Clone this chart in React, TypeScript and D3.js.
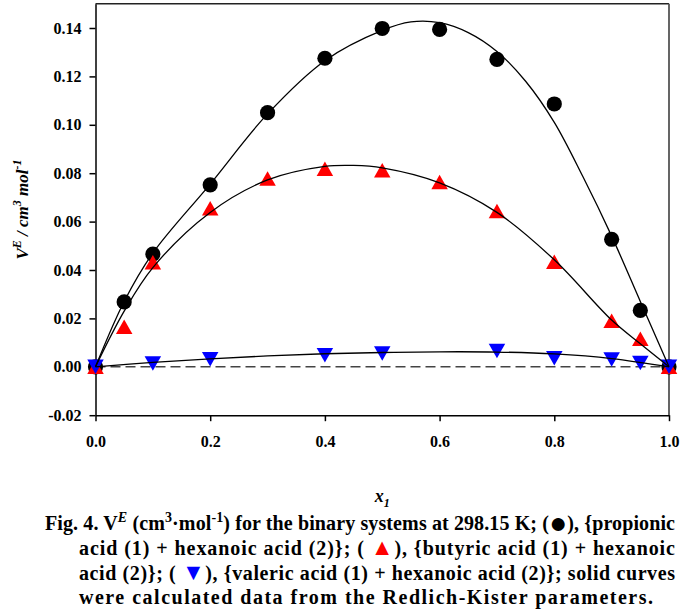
import React, { useRef, useEffect } from 'react';
import * as d3 from 'd3';

// measured points (x1, V^E in cm3/mol)
const xPropionic = [0, 0.05, 0.1, 0.2, 0.3, 0.4, 0.5, 0.6, 0.7, 0.8, 0.9, 0.95, 1.0];
const vePropionic = [0, 0.0268, 0.0466, 0.0752, 0.105, 0.1275, 0.1398, 0.1394, 0.127, 0.1086, 0.0527, 0.0233, 0];

const xButyric = [0, 0.05, 0.1, 0.2, 0.3, 0.4, 0.5, 0.6, 0.7, 0.8, 0.9, 0.95, 1.0];
const veButyric = [0, 0.0166, 0.0432, 0.0655, 0.0778, 0.0818, 0.0812, 0.0764, 0.0644, 0.0434, 0.019, 0.0116, 0];

const xValeric = [0, 0.1, 0.2, 0.4, 0.5, 0.7, 0.8, 0.9, 0.95, 1.0];
const veValeric = [0, 0.0014, 0.0031, 0.0048, 0.0055, 0.0065, 0.0035, 0.003, 0.0016, 0];

// Redlich-Kister curves
const xFitPropionic = [0, 0.05, 0.1, 0.2, 0.3, 0.4, 0.5, 0.55, 0.6, 0.65, 0.7, 0.75, 0.8, 0.85, 0.9, 0.95, 1];
const veFitPropionic = [0, 0.027, 0.047, 0.0755, 0.1045, 0.1265, 0.139, 0.1425, 0.1422, 0.1381, 0.1303, 0.118, 0.101, 0.0785, 0.054, 0.027, 0];

const xFitButyric = [0, 0.05, 0.1, 0.2, 0.3, 0.4, 0.45, 0.5, 0.6, 0.7, 0.8, 0.9, 0.95, 1];
const veFitButyric = [0, 0.023, 0.041, 0.0638, 0.0772, 0.0828, 0.0832, 0.0822, 0.076, 0.0638, 0.0442, 0.0193, 0.0095, 0];

const xFitValeric = [0, 0.1, 0.2, 0.3, 0.4, 0.5, 0.6, 0.7, 0.8, 0.9, 1.0];
const veFitValeric = [0, 0.0018, 0.0033, 0.0045, 0.0054, 0.0059, 0.0062, 0.0061, 0.0053, 0.0034, 0];

const xTicks = [0, 0.2, 0.4, 0.6, 0.8, 1.0];
const yTicks = [-0.02, 0, 0.02, 0.04, 0.06, 0.08, 0.1, 0.12, 0.14];

const W = 699;
const H = 613;
const SERIF = '"Liberation Serif", "Times New Roman", serif';

const App = () => {
  const svgRef = useRef<SVGSVGElement>(null);

  useEffect(() => {
    const svg = d3.select(svgRef.current);
    svg.selectAll('*').remove();

    const x = d3.scaleLinear().domain([0, 1]).range([95.5, 669]);
    const y = d3.scaleLinear().domain([-0.02, 0.15]).range([415.2, 3.8]);
    const [x0, x1] = x.range();
    const [yb, yt] = y.range();

    // frame
    svg.append('line').attr('x1', x0).attr('x2', x1).attr('y1', yt).attr('y2', yt)
      .attr('stroke', '#222').attr('stroke-width', 1.5);
    svg.append('line').attr('x1', x1).attr('x2', x1).attr('y1', yt).attr('y2', yb)
      .attr('stroke', '#555').attr('stroke-width', 1.8);

    // axes
    const gx = svg.append('g').attr('transform', `translate(0,${yb})`)
      .call(d3.axisBottom(x).tickValues(xTicks).tickSize(6).tickSizeOuter(0).tickPadding(14).tickFormat(d3.format('.1f')));
    const gy = svg.append('g').attr('transform', `translate(${x0},0)`)
      .call(d3.axisLeft(y).tickValues(yTicks).tickSize(6).tickSizeOuter(0).tickPadding(8).tickFormat(d3.format('.2f')));
    [gx, gy].forEach(g => {
      g.select('.domain').attr('stroke', '#000').attr('stroke-width', 1.5);
      g.selectAll('.tick line').attr('stroke', '#000').attr('stroke-width', 1.5);
      g.selectAll('.tick text')
        .attr('font-family', SERIF).attr('font-size', 16).attr('font-weight', 'bold').attr('fill', '#000');
    });
    gx.selectAll('.tick text').attr('dy', '0.71em');
    gy.selectAll('.tick text').text((d: any) => d3.format('.2f')(d).replace('−', '-'));

    // zero line
    svg.append('line').attr('x1', x(0)).attr('x2', x(1)).attr('y1', y(0)).attr('y2', y(0))
      .attr('stroke', '#444').attr('stroke-width', 1.5).attr('stroke-dasharray', '10,5');

    // markers
    const tri = (w: number, h: number, up: boolean) => up
      ? `M0,${-h / 2}L${w / 2},${h / 2}L${-w / 2},${h / 2}Z`
      : `M0,${h / 2}L${w / 2},${-h / 2}L${-w / 2},${-h / 2}Z`;

    svg.append('g').selectAll('circle').data(xPropionic).join('circle')
      .attr('cx', d => x(d)).attr('cy', (d, i) => y(vePropionic[i])).attr('r', 7.6).attr('fill', '#000');

    svg.append('g').selectAll('path').data(xButyric).join('path')
      .attr('transform', (d, i) => `translate(${x(d)},${y(veButyric[i])})`)
      .attr('d', tri(16.5, 14.5, true)).attr('fill', '#f00');

    svg.append('g').selectAll('path').data(xValeric).join('path')
      .attr('transform', (d, i) => `translate(${x(d)},${y(veValeric[i])})`)
      .attr('d', tri(16.5, 14.5, false)).attr('fill', '#00f');

    // fitted curves
    const line = d3.line<[number, number]>()
      .x(d => x(d[0])).y(d => y(d[1])).curve(d3.curveCatmullRom.alpha(0.5));
    const fits: [number[], number[]][] = [
      [xFitPropionic, veFitPropionic],
      [xFitButyric, veFitButyric],
      [xFitValeric, veFitValeric],
    ];
    fits.forEach(([xs, vs]) => {
      svg.append('path')
        .datum(xs.map((v, i) => [v, vs[i]] as [number, number]))
        .attr('fill', 'none').attr('stroke', '#000').attr('stroke-width', 1.3)
        .attr('d', line);
    });

    // axis titles
    const yl = svg.append('text')
      .attr('transform', `translate(28,${(yt + yb) / 2}) rotate(-90)`)
      .attr('text-anchor', 'middle').attr('font-family', SERIF).attr('font-size', 17)
      .attr('font-weight', 'bold').attr('font-style', 'italic');
    yl.append('tspan').text('V');
    yl.append('tspan').attr('dy', -7).attr('font-size', 12).text('E');
    yl.append('tspan').attr('dy', 7).text(' / cm');
    yl.append('tspan').attr('dy', -7).attr('font-size', 12).text('3');
    yl.append('tspan').attr('dy', 7).text(' mol');
    yl.append('tspan').attr('dy', -7).attr('font-size', 12).text('-1');

    const xl = svg.append('text')
      .attr('x', (x0 + x1) / 2).attr('y', 502)
      .attr('text-anchor', 'middle').attr('font-family', SERIF).attr('font-size', 18)
      .attr('font-weight', 'bold').attr('font-style', 'italic');
    xl.append('tspan').text('x');
    xl.append('tspan').attr('dy', 5).attr('font-size', 12).text('1');

    // caption
    const cap = (tx: number, ty: number, len: number) => svg.append('text')
      .attr('x', tx).attr('y', ty).attr('textLength', len).attr('lengthAdjust', 'spacing')
      .attr('font-family', SERIF).attr('font-size', 20).attr('font-weight', 'bold').attr('fill', '#000');

    const c1 = cap(45, 530, 630);
    c1.append('tspan').text('Fig. 4. V');
    c1.append('tspan').attr('dy', -8).attr('font-size', 14).attr('font-style', 'italic').text('E');
    c1.append('tspan').attr('dy', 8).text(' (cm');
    c1.append('tspan').attr('dy', -8).attr('font-size', 14).text('3');
    c1.append('tspan').attr('dy', 8).text('·mol');
    c1.append('tspan').attr('dy', -8).attr('font-size', 14).text('-1');
    c1.append('tspan').attr('dy', 8).text(') for the binary systems at 298.15 K; (');
    c1.append('tspan').attr('font-size', 30).attr('dy', 3).text('●');
    c1.append('tspan').attr('dy', -3).text('), {propionic');

    const c2 = cap(79, 555, 596);
    c2.append('tspan').text('acid (1) + hexanoic acid (2)}; ( ');
    c2.append('tspan').attr('fill', '#f00').attr('font-size', 23).text('▲');
    c2.append('tspan').text('), {butyric acid (1) + hexanoic');

    const c3 = cap(79, 580, 596);
    c3.append('tspan').text('acid (2)}; ( ');
    c3.append('tspan').attr('fill', '#00f').attr('font-size', 23).text('▼');
    c3.append('tspan').text('), {valeric acid (1) + hexanoic acid (2)}; solid curves');

    const c4 = cap(79, 604, 574);
    c4.append('tspan').text('were calculated data from the Redlich-Kister parameters.');
  }, []);

  return (
    <svg ref={svgRef} width={W} height={H}
      style={{ position: 'absolute', left: 0, top: 0, background: '#fff' }} />
  );
};

export default App;
